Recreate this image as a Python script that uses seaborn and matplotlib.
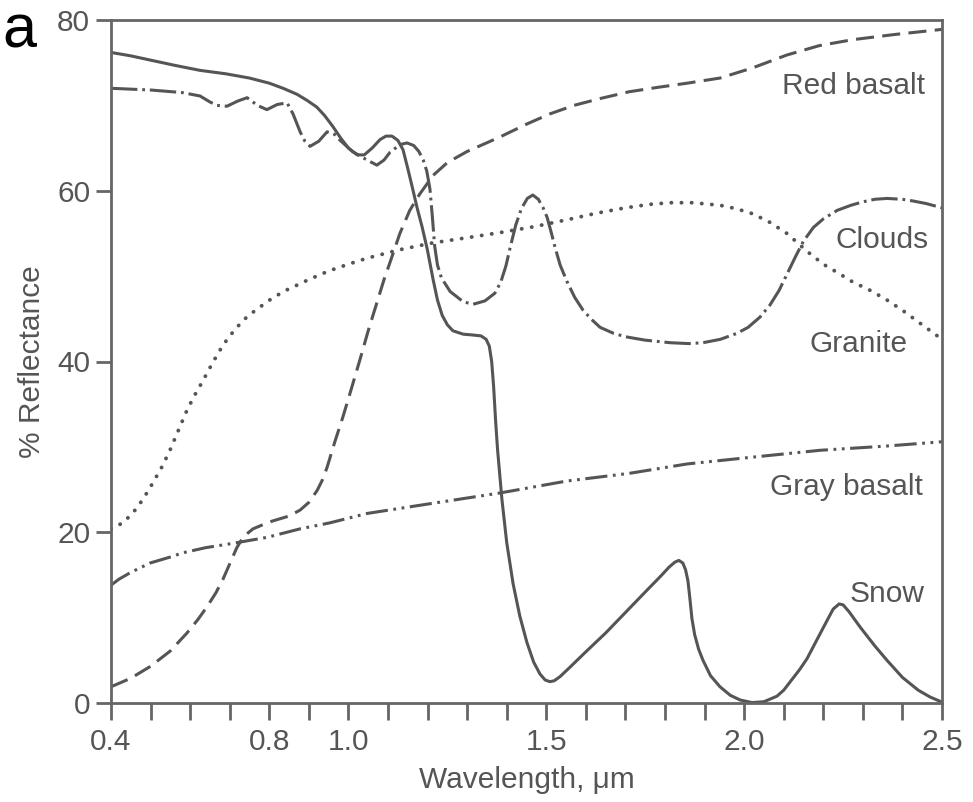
import numpy as np
import pandas as pd
import matplotlib
matplotlib.use("Agg")
import matplotlib.pyplot as plt
import seaborn as sns

# ---------------- data ----------------
snow_x = [0.40, 0.45, 0.50, 0.56, 0.625, 0.69, 0.75, 0.80, 0.835, 0.87, 0.895, 0.92, 0.94,
          0.961, 0.98, 1.00, 1.022, 1.04, 1.06, 1.08, 1.095, 1.11, 1.125, 1.138, 1.15, 1.162,
          1.173, 1.186, 1.199, 1.214, 1.225, 1.237, 1.25, 1.264, 1.29, 1.315, 1.335, 1.348,
          1.356, 1.362, 1.367, 1.372, 1.377, 1.388, 1.40, 1.416, 1.433, 1.451, 1.468, 1.484,
          1.497, 1.509, 1.52, 1.535, 1.56, 1.60, 1.65, 1.70, 1.75, 1.79, 1.81, 1.825, 1.835,
          1.845, 1.852, 1.858, 1.863, 1.868, 1.875, 1.885, 1.896, 1.915, 1.939, 1.965, 1.99,
          2.02, 2.05, 2.083, 2.10, 2.12, 2.14, 2.159, 2.185, 2.21, 2.225, 2.24, 2.25, 2.265,
          2.293, 2.33, 2.361, 2.40, 2.44, 2.47, 2.50]
snow_y = [76.2, 75.8, 75.3, 74.7, 74.1, 73.7, 73.2, 72.6, 72.0, 71.3, 70.6, 69.8, 68.8,
          67.5, 66.2, 65.0, 64.2, 64.2, 65.0, 66.0, 66.4, 66.4, 65.9, 64.8, 62.6, 60.3,
          58.1, 55.8, 53.2, 49.6, 47.2, 45.4, 44.3, 43.6, 43.2, 43.1, 43.0, 42.6,
          41.8, 40.0, 37.0, 33.0, 29.6, 23.8, 18.8, 14.0, 10.2, 7.1, 4.8, 3.4,
          2.7, 2.5, 2.6, 3.1, 4.2, 6.0, 8.2, 10.6, 13.0, 14.9, 15.9, 16.5, 16.7,
          16.4, 15.6, 14.3, 12.2, 9.9, 8.0, 6.3, 5.0, 3.2, 1.9, 0.9, 0.35,
          0.05, 0.15, 0.8, 1.5, 2.7, 3.9, 5.2, 7.5, 9.7, 11.0, 11.6, 11.5, 10.7,
          8.9, 6.7, 5.0, 3.0, 1.5, 0.7, 0.1]

clouds_x = [0.40, 0.50, 0.58, 0.625, 0.65, 0.668, 0.693, 0.72, 0.744, 0.77, 0.794, 0.82,
            0.845, 0.86, 0.878, 0.89, 0.903, 0.925, 0.946, 0.965, 0.979, 1.01, 1.047, 1.072,
            1.09, 1.105, 1.13, 1.148, 1.165, 1.178, 1.189, 1.198, 1.206, 1.212, 1.218, 1.225,
            1.235, 1.257, 1.29, 1.315, 1.345, 1.37, 1.385, 1.398, 1.41, 1.423, 1.437, 1.452,
            1.466, 1.48, 1.492, 1.502, 1.512, 1.522, 1.535, 1.552, 1.572, 1.593, 1.615, 1.636,
            1.67, 1.70, 1.75, 1.813, 1.86, 1.896, 1.94, 1.982, 2.01, 2.04, 2.065, 2.088,
            2.108, 2.13, 2.15, 2.175, 2.20, 2.235, 2.27, 2.30, 2.33, 2.361, 2.40, 2.427,
            2.46, 2.50]
clouds_y = [72.0, 71.8, 71.5, 71.1, 70.4, 70.0, 69.9, 70.5, 70.9, 70.0, 69.5, 70.1,
            70.3, 69.0, 66.9, 65.8, 65.2, 65.8, 66.9, 66.6, 65.9, 64.6, 63.6, 63.0,
            63.6, 64.5, 65.4, 65.6, 65.3, 64.6, 63.6, 62.3, 60.2, 57.0, 53.5, 51.3,
            49.8, 48.2, 47.0, 46.7, 47.1, 48.0, 49.3, 51.2, 53.6, 56.0, 57.9, 59.1,
            59.5, 59.0, 58.0, 56.9, 55.2, 53.4, 51.3, 49.4, 47.5, 46.0, 44.9, 44.0,
            43.3, 42.9, 42.5, 42.2, 42.1, 42.2, 42.6, 43.3, 44.0, 45.2, 46.6, 48.3,
            50.2, 52.3, 54.1, 55.7, 56.7, 57.7, 58.3, 58.7, 59.0, 59.1, 59.0, 58.8,
            58.5, 58.0]

red_x = [0.40, 0.45, 0.50, 0.55, 0.592, 0.62, 0.643, 0.665, 0.683, 0.70, 0.718, 0.735,
         0.759, 0.80, 0.85, 0.878, 0.90, 0.921, 0.935, 0.946, 0.965, 0.986, 1.008, 1.029,
         1.05, 1.072, 1.09, 1.105, 1.13, 1.155, 1.18, 1.214, 1.25, 1.30, 1.383, 1.45,
         1.509, 1.57, 1.636, 1.71, 1.78, 1.856, 1.939, 2.022, 2.108, 2.19, 2.275, 2.38, 2.50]
red_y = [1.9, 2.9, 4.3, 6.1, 8.2, 9.8, 11.3, 12.9, 14.5, 16.3, 18.2, 19.5,
         20.4, 21.2, 21.9, 22.6, 23.5, 24.9, 26.2, 27.6, 30.5, 33.5, 36.9, 40.2,
         43.6, 46.9, 49.6, 51.6, 55.0, 57.7, 59.6, 61.8, 63.3, 64.6, 66.3, 67.8,
         69.0, 70.0, 70.8, 71.6, 72.1, 72.6, 73.2, 74.4, 75.9, 77.0, 77.7, 78.3, 78.9]

granite_x = [0.40, 0.43, 0.456, 0.48, 0.506, 0.528, 0.549, 0.57, 0.592, 0.612, 0.633, 0.655,
             0.675, 0.695, 0.718, 0.745, 0.777, 0.81, 0.845, 0.90, 0.95, 1.00, 1.047, 1.13,
             1.214, 1.30, 1.383, 1.47, 1.552, 1.63, 1.70, 1.76, 1.813, 1.87, 1.939, 1.98,
             2.022, 2.065, 2.108, 2.135, 2.159, 2.20, 2.24, 2.275, 2.32, 2.361, 2.40, 2.444,
             2.50]
granite_y = [20.4, 21.1, 22.3, 23.8, 25.8, 27.6, 29.6, 31.9, 34.3, 36.1, 37.8, 39.7,
             41.3, 42.7, 44.0, 45.3, 46.4, 47.5, 48.4, 49.6, 50.6, 51.4, 52.1, 53.1,
             53.9, 54.5, 55.1, 55.8, 56.6, 57.4, 58.0, 58.4, 58.6, 58.6, 58.3, 57.9,
             57.3, 56.3, 55.0, 53.9, 52.9, 51.4, 50.3, 49.3, 48.3, 47.2, 46.0, 44.5,
             42.6]

gray_x = [0.40, 0.42, 0.45, 0.499, 0.55, 0.582, 0.64, 0.708, 0.794, 0.878, 0.953, 1.047,
          1.214, 1.383, 1.552, 1.71, 1.856, 2.022, 2.192, 2.361, 2.50]
gray_y = [13.8, 14.5, 15.3, 16.4, 17.1, 17.6, 18.2, 18.7, 19.4, 20.4, 21.1, 22.2,
          23.4, 24.6, 26.0, 26.9, 28.0, 28.8, 29.6, 30.1, 30.6]

series_names = ["Snow", "Clouds", "Red basalt", "Granite", "Gray basalt"]
label_x = [2.457, 2.465, 2.457, 2.412, 2.452]
label_y = [11.8, 53.3, 71.3, 41.1, 24.4]

x_tick_values = [0.4, 0.8, 1.0, 1.5, 2.0, 2.5]
x_tick_labels = ["0.4", "0.8", "1.0", "1.5", "2.0", "2.5"]
y_tick_values = [0, 20, 40, 60, 80]
y_tick_labels = ["0", "20", "40", "60", "80"]
x_label = "Wavelength, \u03bcm"
y_label = "% Reflectance"
panel_letter = "a"

# ---------------- style ----------------
sns.set_style("ticks")
plt.rcParams["font.family"] = ["Liberation Sans", "DejaVu Sans"]
plt.rcParams["lines.scale_dashes"] = False

ink = "#555555"
line_col = "#555555"
fs = 21.5

fig = plt.figure(figsize=(9.73, 8.02), dpi=100)
ax = fig.add_axes([111 / 973, 1 - 703 / 802, (942 - 111) / 973, (703 - 20) / 802])

styles = {
    "Snow": dict(linestyle="-", linewidth=2.2),
    "Clouds": dict(linestyle=(0, (19, 3.5, 2, 3.5)), linewidth=2.2),
    "Red basalt": dict(linestyle=(0, (13, 6)), linewidth=2.2),
    "Granite": dict(linestyle=(0, (0.1, 7.2)), dash_capstyle="round", linewidth=2.8),
    "Gray basalt": dict(linestyle=(0, (16, 4, 2, 4, 2, 4)), linewidth=2.2),
}
data = {
    "Snow": (snow_x, snow_y),
    "Clouds": (clouds_x, clouds_y),
    "Red basalt": (red_x, red_y),
    "Granite": (granite_x, granite_y),
    "Gray basalt": (gray_x, gray_y),
}

for name in series_names:
    xs, ys = data[name]
    df = pd.DataFrame({"wl": xs, "refl": ys})
    sns.lineplot(data=df, x="wl", y="refl", ax=ax, color=line_col,
                 estimator=None, sort=False, **styles[name])

for name, lx, ly in zip(series_names, label_x, label_y):
    ax.text(lx, ly, name, ha="right", va="baseline", fontsize=fs, color=ink)

ax.set_xlim(0.4, 2.5)
ax.set_ylim(0, 80)

minor = np.round(np.arange(0.4, 2.5001, 0.1), 2)
ax.set_xticks(minor, minor=True)
ax.set_xticks(x_tick_values)
ax.set_xticklabels(x_tick_labels)
ax.set_yticks(y_tick_values)
ax.set_yticklabels(y_tick_labels)

for s in ax.spines.values():
    s.set_visible(True)
    s.set_color("#666666")
    s.set_linewidth(2.0)

ax.tick_params(axis="x", which="both", direction="out", length=12, width=2.0,
               color="#666666", labelsize=fs, labelcolor=ink, pad=6)
ax.tick_params(axis="y", which="major", direction="out", length=10.5, width=2.0,
               color="#666666", labelsize=fs, labelcolor=ink, pad=4.5)

ax.set_xlabel(x_label, fontsize=fs, color=ink, labelpad=7)
ax.set_ylabel(y_label, fontsize=fs, color=ink, labelpad=8)

fig.text(0.002, 1 - 47 / 802, panel_letter, fontsize=44, color="black",
         va="baseline", ha="left")

fig.savefig("out.png", dpi=100)
